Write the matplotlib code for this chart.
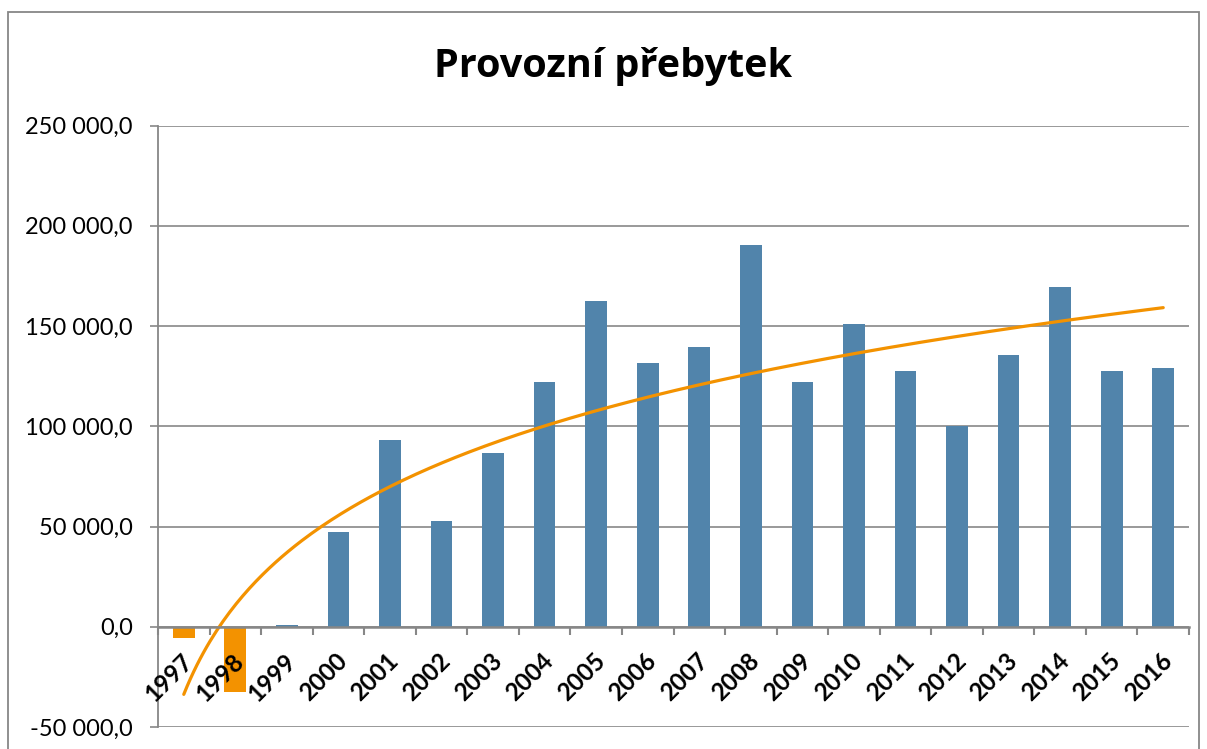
import numpy as np
import matplotlib
matplotlib.use("Agg")
import matplotlib.pyplot as plt
import matplotlib.patches as patches
from matplotlib.ticker import FuncFormatter, FixedLocator
from matplotlib.transforms import ScaledTranslation

# data
years = ["1997", "1998", "1999", "2000", "2001", "2002", "2003", "2004", "2005", "2006",
         "2007", "2008", "2009", "2010", "2011", "2012", "2013", "2014", "2015", "2016"]
surplus = [-5500, -32700, 1000, 47300, 93000, 52600, 86800, 121900, 162500, 131500,
           139500, 190500, 122200, 151100, 127600, 100000, 135300, 169700, 127700, 129200]

title = "Provozní přebytek"
y_ticks = [-50000, 0, 50000, 100000, 150000, 200000, 250000]

blue = "#5184AB"
orange = "#F39200"
grey = "#878787"

plt.rcParams['font.family'] = ['Lato', 'DejaVu Sans']

fig = plt.figure(figsize=(12.07, 7.49), dpi=100)
# outer chart frame
fig.patches.append(patches.Rectangle((8 / 1207, -0.05), (1199 - 8) / 1207, 1.05 - 12 / 749,
                                     transform=fig.transFigure, fill=False,
                                     edgecolor=grey, linewidth=1.3))

ax = fig.add_axes([158 / 1207, 1 - 727 / 749, (1189 - 158) / 1207, (727 - 125.5) / 749])

x = np.arange(len(years))
vals = np.array(surplus, dtype=float)
colors = [orange if v < 0 else blue for v in vals]
ax.bar(x, vals, width=0.42, color=colors, zorder=3)

# logarithmic trend (least squares on ln of the category index, like Excel)
t = x + 1
a, b = np.polyfit(np.log(t), vals, 1)
tt = np.linspace(1, len(years), 300)
ax.plot(tt - 1, a * np.log(tt) + b, color=orange, linewidth=2.3, zorder=4,
        solid_capstyle='round')

ax.set_xlim(-0.5, len(years) - 0.5)
ax.set_ylim(-50000, 250000)
ax.yaxis.set_major_locator(FixedLocator(y_ticks))
ax.yaxis.set_major_formatter(FuncFormatter(
    lambda v, p: f"{v:,.1f}".replace(",", " ").replace(".", ",")))
ax.grid(axis='y', color=grey, linewidth=1.2, zorder=0)
ax.tick_params(axis='y', length=6, width=1.2, color=grey, pad=12, labelsize=17)

for s in ['top', 'right']:
    ax.spines[s].set_visible(False)
ax.spines['left'].set_color(grey)
ax.spines['left'].set_linewidth(1.3)
ax.spines['bottom'].set_position(('data', 0))
ax.spines['bottom'].set_color(grey)
ax.spines['bottom'].set_linewidth(1.8)
ax.spines['bottom'].set_zorder(5)

ax.set_xticks(x)
ax.set_xticklabels(years, rotation=45, ha='right', va='center',
                   rotation_mode='anchor', fontweight='bold', fontsize=17.5)
ax.set_xticks(np.arange(len(years) + 1) - 0.5, minor=True)
ax.tick_params(axis='x', which='major', length=0, pad=22)
ax.tick_params(axis='x', which='minor', length=6, width=1.5, color=grey)
ax.xaxis.set_zorder(5)
shift = ScaledTranslation(5 / 100, 0, fig.dpi_scale_trans)
for lab in ax.get_xticklabels():
    lab.set_transform(lab.get_transform() + shift)

fig.text(613 / 1207, 1 - 77 / 749, title, ha='center', va='baseline',
         fontsize=28.5, fontweight='bold', family=['Open Sans', 'DejaVu Sans'])

fig.savefig("out.png", dpi=100)
